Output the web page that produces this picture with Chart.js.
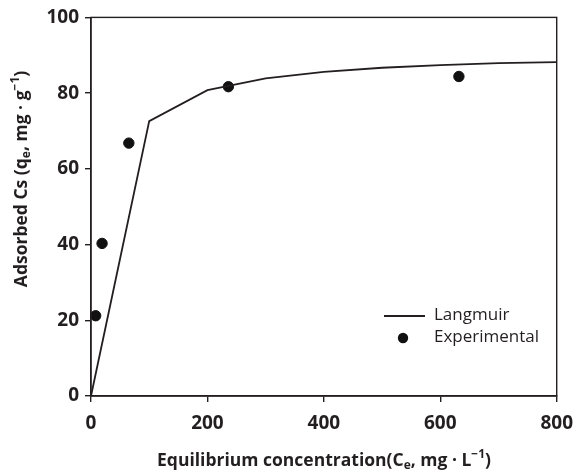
<!DOCTYPE html>
<html>
<head>
<meta charset="utf-8">
<script src="https://cdn.jsdelivr.net/npm/chart.js@4/dist/chart.umd.min.js"></script>
<style>
  html, body { margin: 0; padding: 0; background: #fff; }
  #wrap { width: 583px; height: 473px; }
</style>
</head>
<body>
<div id="wrap"><canvas id="isotherm"></canvas></div>
<script>
// Langmuir fit line and measured points
const langmuirX = [0, 100, 200, 300, 400, 500, 600, 700, 800];
const langmuirY = [0, 72.6, 80.8, 83.9, 85.6, 86.7, 87.4, 87.9, 88.2];
const expX = [8, 19, 65, 236, 632];
const expY = [21.2, 40.3, 66.8, 81.7, 84.4];
const xTicks = [0, 200, 400, 600, 800];
const yTicks = [0, 20, 40, 60, 80, 100];

const ink = "#231f20";
const fontFam = "'Open Sans', 'DejaVu Sans', sans-serif";

// frame around the plot + legend inside it + axis titles with sub/superscripts
const decorations = {
    id: "decorations",
    afterDraw(chart) {
        const { ctx, chartArea: a } = chart;
        ctx.save();
        ctx.strokeStyle = ink;
        ctx.lineWidth = 1.4;
        ctx.strokeRect(a.left, a.top, a.right - a.left, a.bottom - a.top);

        // legend
        ctx.lineWidth = 1.8;
        ctx.beginPath();
        ctx.moveTo(384, 316);
        ctx.lineTo(425, 316);
        ctx.stroke();
        ctx.fillStyle = "#111";
        ctx.beginPath();
        ctx.arc(403, 338, 5.2, 0, Math.PI * 2);
        ctx.fill();
        ctx.fillStyle = ink;
        ctx.font = "17px " + fontFam;
        ctx.textBaseline = "middle";
        ctx.fillText("Langmuir", 434, 315);
        ctx.fillText("Experimental", 434, 337);

        // axis titles drawn piece by piece so subscripts sit right
        const parts = (list, x, y) => {
            for (const p of list) {
                ctx.font = "bold " + p.s + "px " + fontFam;
                ctx.fillText(p.t, x, y + (p.dy || 0));
                x += ctx.measureText(p.t).width;
            }
            return x;
        };
        const measure = (list) => list.reduce((w, p) => {
            ctx.font = "bold " + p.s + "px " + fontFam;
            return w + ctx.measureText(p.t).width;
        }, 0);
        ctx.textBaseline = "alphabetic";
        const xt = [
            { t: "Equilibrium concentration(C", s: 17.5 },
            { t: "e", s: 12, dy: 3 },
            { t: ", mg \u00b7 L", s: 17.5 },
            { t: "\u22121", s: 12, dy: -8 },
            { t: ")", s: 17.5 }
        ];
        const xw = measure(xt);
        parts(xt, 324 - xw / 2, 466);

        const yt = [
            { t: "Adsorbed Cs (q", s: 17.5 },
            { t: "e", s: 12, dy: 3 },
            { t: ", mg \u00b7 g", s: 17.5 },
            { t: "\u22121", s: 12, dy: -8 },
            { t: ")", s: 17.5 }
        ];
        const yw = measure(yt);
        ctx.translate(27, 179);
        ctx.rotate(-Math.PI / 2);
        parts(yt, -yw / 2, 0);
        ctx.restore();
    }
};

new Chart(document.getElementById("isotherm"), {
    type: "scatter",
    data: {
        datasets: [
            {
                label: "Langmuir",
                type: "line",
                data: langmuirX.map((x, i) => ({ x: x, y: langmuirY[i] })),
                borderColor: ink,
                borderWidth: 1.8,
                pointRadius: 0,
                fill: false,
                tension: 0,
                clip: false
            },
            {
                label: "Experimental",
                data: expX.map((x, i) => ({ x: x, y: expY[i] })),
                backgroundColor: "#111",
                borderColor: "#111",
                pointRadius: 5.2,
                clip: false
            }
        ]
    },
    options: {
        responsive: true,
        maintainAspectRatio: false,
        animation: false,
        layout: { padding: { top: 14, right: 24, left: 0, bottom: 0 } },
        plugins: {
            legend: { display: false },
            tooltip: { enabled: false }
        },
        scales: {
            x: {
                type: "linear",
                min: 0,
                max: 800,
                afterFit: (s) => { s.height = 77; },
                afterBuildTicks: (s) => { s.ticks = xTicks.map(v => ({ value: v })); },
                grid: { drawOnChartArea: false, tickLength: 6, color: ink, lineWidth: 1.4 },
                border: { color: ink, width: 1.4 },
                ticks: { color: ink, padding: 10, font: { family: fontFam, size: 19, weight: "bold" } }
            },
            y: {
                min: 0,
                max: 100,
                afterFit: (s) => { s.width = 91; },
                afterBuildTicks: (s) => { s.ticks = yTicks.map(v => ({ value: v })); },
                grid: { drawOnChartArea: false, tickLength: 6, color: ink, lineWidth: 1.4 },
                border: { color: ink, width: 1.4 },
                ticks: { color: ink, padding: 6, font: { family: fontFam, size: 19, weight: "bold" } }
            }
        }
    },
    plugins: [decorations]
});
</script>
</body>
</html>
